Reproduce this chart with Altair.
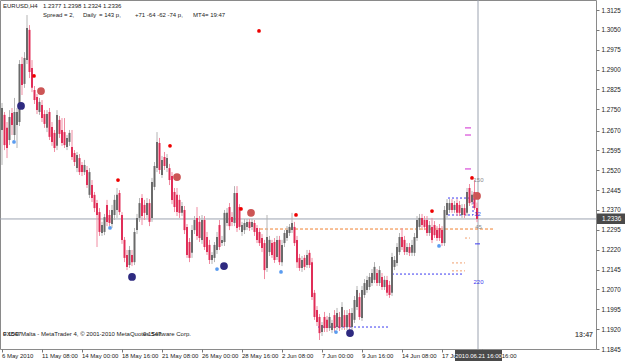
import altair as alt
import pandas as pd

# ---------------- data (EURUSD H4) ----------------
opens = [
    1.2672, 1.2729, 1.2680, 1.2634, 1.2736, 1.2653, 1.2691, 1.2702, 1.2921, 1.2846,
    1.2936, 1.3050, 1.2906, 1.2823, 1.2797, 1.2740, 1.2766, 1.2732, 1.2680, 1.2740,
    1.2683, 1.2661, 1.2612, 1.2710, 1.2672, 1.2664, 1.2608, 1.2627, 1.2608, 1.2585,
    1.2528, 1.2566, 1.2540, 1.2513, 1.2521, 1.2427, 1.2464, 1.2427, 1.2396, 1.2362,
    1.2283, 1.2287, 1.2389, 1.2351, 1.2317, 1.2351, 1.2370, 1.2434, 1.2351, 1.2257,
    1.2200, 1.2162, 1.2200, 1.2173, 1.2294, 1.2340, 1.2415, 1.2389, 1.2351, 1.2396,
    1.2340, 1.2457, 1.2528, 1.2623, 1.2502, 1.2570, 1.2528, 1.2528, 1.2498, 1.2438,
    1.2427, 1.2408, 1.2359, 1.2370, 1.2306, 1.2249, 1.2208, 1.2294, 1.2340, 1.2325,
    1.2257, 1.2332, 1.2268, 1.2238, 1.2181, 1.2189, 1.2219, 1.2313, 1.2245, 1.2249,
    1.2321, 1.2381, 1.2343, 1.2321, 1.2434, 1.2381, 1.2287, 1.2294, 1.2306, 1.2325,
    1.2306, 1.2321, 1.2302, 1.2287, 1.2264, 1.2245, 1.2151, 1.2211, 1.2245, 1.2249,
    1.2192, 1.2257, 1.2173, 1.2245, 1.2264, 1.2283, 1.2294, 1.2306, 1.2257, 1.2189,
    1.2151, 1.2189, 1.2162, 1.2208, 1.2173, 1.2057, 1.1992, 1.1966, 1.1909, 1.1966,
    1.1955, 1.1924, 1.1917, 1.1973, 1.1928, 1.1966, 1.1928, 1.1973, 1.1928, 1.1981,
    1.1928, 1.1955, 1.2004, 1.2041, 1.1962, 1.2049, 1.2068, 1.2079, 1.2094, 1.2106,
    1.2132, 1.2094, 1.2117, 1.2079, 1.2106, 1.2087, 1.2057, 1.2155, 1.2170, 1.2211,
    1.2268, 1.2257, 1.2211, 1.2230, 1.2208, 1.2208, 1.2264, 1.2306, 1.2340, 1.2332,
    1.2332, 1.2283, 1.2306, 1.2313, 1.2294, 1.2302, 1.2294, 1.2245, 1.2351, 1.2370,
    1.2396, 1.2370, 1.2396, 1.2389, 1.2351, 1.2377, 1.2359, 1.2453, 1.2400, 1.2438,
    1.2377,
]
closes = [
    1.2755, 1.2615, 1.2604, 1.2721, 1.2691, 1.2740, 1.2740, 1.2921, 1.2842, 1.2944,
    1.3057, 1.2891, 1.2831, 1.2785, 1.2747, 1.2778, 1.2717, 1.2695, 1.2732, 1.2646,
    1.2627, 1.2604, 1.2729, 1.2657, 1.2623, 1.2615, 1.2642, 1.2661, 1.2570, 1.2551,
    1.2578, 1.2513, 1.2513, 1.2540, 1.2464, 1.2513, 1.2415, 1.2377, 1.2351, 1.2287,
    1.2313, 1.2343, 1.2325, 1.2321, 1.2370, 1.2408, 1.2427, 1.2362, 1.2257, 1.2189,
    1.2155, 1.2219, 1.2173, 1.2287, 1.2340, 1.2396, 1.2347, 1.2359, 1.2396, 1.2325,
    1.2476, 1.2536, 1.2627, 1.2521, 1.2559, 1.2536, 1.2566, 1.2483, 1.2408, 1.2381,
    1.2362, 1.2359, 1.2385, 1.2294, 1.2200, 1.2189, 1.2294, 1.2332, 1.2272, 1.2264,
    1.2332, 1.2230, 1.2211, 1.2181, 1.2200, 1.2238, 1.2268, 1.2230, 1.2257, 1.2359,
    1.2359, 1.2309, 1.2325, 1.2434, 1.2302, 1.2306, 1.2313, 1.2321, 1.2325, 1.2302,
    1.2325, 1.2287, 1.2257, 1.2245, 1.2226, 1.2143, 1.2268, 1.2257, 1.2200, 1.2181,
    1.2257, 1.2173, 1.2238, 1.2283, 1.2294, 1.2306, 1.2321, 1.2245, 1.2173, 1.2151,
    1.2181, 1.2155, 1.2200, 1.2162, 1.2041, 1.1966, 1.1947, 1.1905, 1.1936, 1.1924,
    1.1924, 1.1966, 1.1943, 1.1924, 1.1981, 1.1924, 1.2004, 1.1928, 1.1973, 1.1928,
    1.1981, 1.2030, 1.2068, 1.1966, 1.2068, 1.2094, 1.2106, 1.2117, 1.2132, 1.2155,
    1.2094, 1.2143, 1.2079, 1.2106, 1.2057, 1.2049, 1.2192, 1.2181, 1.2230, 1.2268,
    1.2230, 1.2211, 1.2230, 1.2208, 1.2238, 1.2268, 1.2332, 1.2340, 1.2313, 1.2306,
    1.2283, 1.2313, 1.2257, 1.2275, 1.2264, 1.2264, 1.2245, 1.2370, 1.2396, 1.2396,
    1.2370, 1.2389, 1.2359, 1.2359, 1.2377, 1.2351, 1.2438, 1.2396, 1.2427, 1.2377,
    1.2336,
]
highs = [
    1.2774, 1.2740, 1.2702, 1.2747, 1.2755, 1.2793, 1.2755, 1.2936, 1.2948, 1.2966,
    1.3106, 1.3068, 1.2936, 1.2838, 1.2808, 1.2793, 1.2785, 1.2747, 1.2747, 1.2755,
    1.2702, 1.2672, 1.2747, 1.2725, 1.2717, 1.2717, 1.2653, 1.2672, 1.2672, 1.2596,
    1.2589, 1.2581, 1.2551, 1.2559, 1.2536, 1.2528, 1.2483, 1.2438, 1.2408, 1.2377,
    1.2325, 1.2355, 1.2408, 1.2370, 1.2389, 1.2427, 1.2453, 1.2445, 1.2362, 1.2268,
    1.2219, 1.2234, 1.2219, 1.2302, 1.2355, 1.2415, 1.2430, 1.2408, 1.2415, 1.2411,
    1.2491, 1.2551, 1.2664, 1.2642, 1.2574, 1.2589, 1.2581, 1.2544, 1.2513, 1.2453,
    1.2453, 1.2427, 1.2400, 1.2385, 1.2317, 1.2264, 1.2313, 1.2347, 1.2381, 1.2347,
    1.2351, 1.2347, 1.2287, 1.2257, 1.2211, 1.2249, 1.2287, 1.2332, 1.2272, 1.2370,
    1.2377, 1.2396, 1.2362, 1.2460, 1.2460, 1.2392, 1.2325, 1.2336, 1.2336, 1.2336,
    1.2336, 1.2332, 1.2313, 1.2302, 1.2279, 1.2257, 1.2351, 1.2272, 1.2257, 1.2264,
    1.2272, 1.2272, 1.2257, 1.2294, 1.2309, 1.2317, 1.2359, 1.2325, 1.2272, 1.2204,
    1.2196, 1.2200, 1.2219, 1.2219, 1.2189, 1.2068, 1.2007, 1.1977, 1.1947, 1.1985,
    1.1970, 1.1981, 1.1955, 1.1992, 1.2000, 1.1985, 1.2022, 1.1992, 1.1992, 1.1996,
    1.2000, 1.2045, 1.2083, 1.2057, 1.2083, 1.2109, 1.2121, 1.2132, 1.2147, 1.2173,
    1.2147, 1.2158, 1.2132, 1.2121, 1.2121, 1.2102, 1.2208, 1.2196, 1.2245, 1.2283,
    1.2302, 1.2272, 1.2245, 1.2245, 1.2257, 1.2283, 1.2347, 1.2355, 1.2355, 1.2347,
    1.2347, 1.2328, 1.2340, 1.2328, 1.2309, 1.2317, 1.2309, 1.2385, 1.2411, 1.2411,
    1.2411, 1.2404, 1.2411, 1.2404, 1.2392, 1.2392, 1.2453, 1.2468, 1.2442, 1.2483,
    1.2398,
]
lows = [
    1.2540, 1.2596, 1.2566, 1.2615, 1.2653, 1.2634, 1.2604, 1.2687, 1.2804, 1.2831,
    1.2921, 1.2868, 1.2815, 1.2770, 1.2732, 1.2729, 1.2702, 1.2680, 1.2664, 1.2634,
    1.2612, 1.2589, 1.2596, 1.2642, 1.2612, 1.2604, 1.2596, 1.2612, 1.2559, 1.2536,
    1.2513, 1.2502, 1.2498, 1.2502, 1.2453, 1.2415, 1.2400, 1.2362, 1.2230, 1.2272,
    1.2272, 1.2275, 1.2309, 1.2309, 1.2302, 1.2332, 1.2340, 1.2351, 1.2242, 1.2173,
    1.2143, 1.2151, 1.2158, 1.2162, 1.2279, 1.2325, 1.2313, 1.2332, 1.2340, 1.2309,
    1.2325, 1.2445, 1.2513, 1.2506, 1.2491, 1.2521, 1.2513, 1.2464, 1.2392, 1.2362,
    1.2347, 1.2340, 1.2347, 1.2279, 1.2189, 1.2173, 1.2189, 1.2279, 1.2257, 1.2249,
    1.2242, 1.2219, 1.2200, 1.2166, 1.2166, 1.2173, 1.2204, 1.2219, 1.2234, 1.2234,
    1.2309, 1.2294, 1.2309, 1.2309, 1.2287, 1.2294, 1.2272, 1.2279, 1.2294, 1.2291,
    1.2294, 1.2272, 1.2245, 1.2234, 1.2211, 1.2109, 1.2136, 1.2196, 1.2189, 1.2170,
    1.2181, 1.2162, 1.2158, 1.2230, 1.2253, 1.2272, 1.2283, 1.2234, 1.2151, 1.2140,
    1.2136, 1.2143, 1.2151, 1.2151, 1.2030, 1.1955, 1.1932, 1.1879, 1.1894, 1.1909,
    1.1909, 1.1913, 1.1905, 1.1909, 1.1917, 1.1913, 1.1917, 1.1917, 1.1917, 1.1913,
    1.1917, 1.1943, 1.1992, 1.1955, 1.1951, 1.2038, 1.2057, 1.2068, 1.2083, 1.2094,
    1.2083, 1.2083, 1.2068, 1.2068, 1.2045, 1.2038, 1.2045, 1.2143, 1.2158, 1.2200,
    1.2219, 1.2200, 1.2200, 1.2196, 1.2196, 1.2196, 1.2253, 1.2294, 1.2302, 1.2294,
    1.2272, 1.2272, 1.2245, 1.2264, 1.2253, 1.2253, 1.2234, 1.2234, 1.2340, 1.2359,
    1.2359, 1.2359, 1.2347, 1.2347, 1.2340, 1.2340, 1.2347, 1.2385, 1.2389, 1.2370,
    1.2324,
]
bar_index = list(range(len(closes)))

# time axis labels (bar index of each label)
date_pos = [0, 16, 32, 48, 64, 80, 96, 112, 128, 144, 160, 176, 192]
date_labels = ["6 May 2010", "11 May 08:00", "14 May 00:00", "18 May 16:00",
               "21 May 08:00", "26 May 00:00", "28 May 16:00", "2 Jun 08:00",
               "7 Jun 00:00", "9 Jun 16:00", "14 Jun 08:00", "17 Jun 00:00",
               "21 Jun 16:00"]

price_ticks = [1.3125, 1.3050, 1.2975, 1.2900, 1.2825, 1.2750, 1.2670, 1.2595,
               1.2520, 1.2445, 1.2370, 1.2295, 1.2220, 1.2145, 1.2070, 1.1995,
               1.1920, 1.1845]

# indicator markers
red_dot_i = [12.8, 102.8, 67.2, 46.4, 95.6, 117.6, 172.0, 188.0]
red_dot_p = [1.2876, 1.3046, 1.2612, 1.2483, 1.2374, 1.2351, 1.2366, 1.2491]
big_red_i = [15.6, 70.0, 99.6, 190.0]
big_red_p = [1.2819, 1.2494, 1.2359, 1.2423]
navy_i = [7.6, 52.0, 88.8, 139.2]
navy_p = [1.2763, 1.2117, 1.2158, 1.1905]
blue_i = [4.8, 43.2, 86.0, 111.6, 133.6, 174.8]
blue_p = [1.2627, 1.2302, 1.2147, 1.2136, 1.1909, 1.2234]

# levels
current_price = 1.2336
current_index = 190.4
orange_level = [1.2298]
orange_from = [103.2]
orange_to = [196.8]
blue_levels = [1.2128, 1.1928, 1.2415, 1.2351]
blue_from = [156.0, 126.4, 178.4, 178.4]
blue_to = [184.4, 154.4, 188.4, 188.4]
magenta_levels = [1.2680, 1.2653, 1.2525]
small_orange_levels = [1.2264, 1.2170, 1.2140]
small_orange_from = [185.2, 180.0, 180.0]
small_orange_to = [187.2, 185.2, 185.2]

# ---------------- chart ----------------
FONT = "Liberation Sans"
FS = 6
xs = alt.Scale(domain=[-0.8, 237.6], nice=False, zero=False)
ys = alt.Scale(domain=[1.1845, 1.31628], nice=False, zero=False)
x_axis = alt.Axis(values=date_pos, labels=False, ticks=True, tickSize=3,
                  domain=False, grid=False, title=None, tickColor="#777777")
y_axis = alt.Axis(orient="right", values=price_ticks, format=".4f", tickSize=3,
                  domain=False, grid=False, title=None, labelFont=FONT,
                  labelFontSize=6.3, labelColor="#222222", tickColor="#777777",
                  labelPadding=2, labelOverlap=False)


def X(field):
    return alt.X(field, type="quantitative", scale=xs, axis=x_axis)


def Y(field):
    return alt.Y(field, type="quantitative", scale=ys, axis=y_axis)


bars = pd.DataFrame({"i": bar_index, "open": opens, "high": highs,
                     "low": lows, "close": closes})
bull = "datum.close >= datum.open"

wicks = alt.Chart(bars).mark_rule(strokeWidth=1).encode(
    x=X("i"), y=Y("low"), y2="high",
    color=alt.condition(bull, alt.value("#b4b4b4"), alt.value("#f08ca2")))
bodies = alt.Chart(bars).mark_rule(strokeWidth=2, strokeCap="butt").encode(
    x=X("i"), y=Y("open"), y2="close",
    color=alt.condition(bull, alt.value("#6a6a6a"), alt.value("#e02e58")))

hline = alt.Chart(pd.DataFrame({"p": [current_price]})).mark_rule(
    color="#9ca3b0", strokeWidth=1).encode(y=Y("p"))
vline = alt.Chart(pd.DataFrame({"i": [current_index]})).mark_rule(
    color="#9ca3b0", strokeWidth=1).encode(x=X("i"))

orange = alt.Chart(pd.DataFrame({"p": orange_level, "a": orange_from, "b": orange_to})).mark_rule(
    color="#f08030", strokeDash=[3, 2], strokeWidth=1).encode(x=X("a"), x2="b", y=Y("p"))
blues = alt.Chart(pd.DataFrame({"p": blue_levels, "a": blue_from, "b": blue_to})).mark_rule(
    color="#3a3af0", strokeDash=[2, 2], strokeWidth=1).encode(x=X("a"), x2="b", y=Y("p"))
blue_v = alt.Chart(pd.DataFrame({"i": [188.4], "a": [1.2415], "b": [1.2351]})).mark_rule(
    color="#3a3af0", strokeDash=[2, 2], strokeWidth=1).encode(x=X("i"), y=Y("a"), y2="b")
magenta = alt.Chart(pd.DataFrame({"p": magenta_levels, "a": [185.2] * 3, "b": [187.6] * 3})).mark_rule(
    color="#e070e0", strokeWidth=1.5).encode(x=X("a"), x2="b", y=Y("p"))
small_orange = alt.Chart(pd.DataFrame({"p": small_orange_levels, "a": small_orange_from,
                                       "b": small_orange_to})).mark_rule(
    color="#f0a070", strokeDash=[2, 2], strokeWidth=1).encode(x=X("a"), x2="b", y=Y("p"))
blue_short = alt.Chart(pd.DataFrame({"p": [1.2242], "a": [189.2], "b": [191.2]})).mark_rule(
    color="#3a3af0", strokeWidth=1).encode(x=X("a"), x2="b", y=Y("p"))

red_dots = alt.Chart(pd.DataFrame({"i": red_dot_i, "p": red_dot_p})).mark_circle(
    color="#ee0000", size=14, opacity=1).encode(x=X("i"), y=Y("p"))
big_red = alt.Chart(pd.DataFrame({"i": big_red_i, "p": big_red_p})).mark_circle(
    color="#cc5555", size=60, opacity=1).encode(x=X("i"), y=Y("p"))
navy = alt.Chart(pd.DataFrame({"i": navy_i, "p": navy_p})).mark_circle(
    color="#2e2a80", size=60, opacity=1).encode(x=X("i"), y=Y("p"))
blue_dots = alt.Chart(pd.DataFrame({"i": blue_i, "p": blue_p})).mark_circle(
    color="#5a9cf0", size=14, opacity=1).encode(x=X("i"), y=Y("p"))

# numbers near the last bar
num_text = alt.Chart(pd.DataFrame({"i": [190.6, 190.2, 190.6, 190.6],
                                   "p": [1.2483, 1.2354, 1.2305, 1.2098],
                                   "t": ["150", "12", "45", "220"],
                                   "c": ["#888888", "#3a3af0", "#888888", "#3a3af0"]})).mark_text(
    font=FONT, fontSize=FS, align="center", baseline="middle").encode(
    x=X("i"), y=Y("p"), text="t:N", color=alt.Color("c:N", scale=None))

# time labels
date_text = alt.Chart(pd.DataFrame({"i": date_pos, "t": date_labels})).mark_text(
    font=FONT, fontSize=FS, align="left", baseline="middle", color="#222222").encode(
    x=X("i"), y=alt.value(355.5), text="t:N")

date_box = alt.Chart(pd.DataFrame({"a": [0]})).mark_rect(color="#4a4a4a").encode(
    x=alt.value(455), x2=alt.value(502), y=alt.value(350), y2=alt.value(361))
date_box_text = alt.Chart(pd.DataFrame({"t": ["2010.06.21 16:00"]})).mark_text(
    font=FONT, fontSize=FS, align="center", baseline="middle", color="white").encode(
    x=alt.value(478.5), y=alt.value(355.5), text="t:N")

price_box = alt.Chart(pd.DataFrame({"a": [0]})).mark_rect(color="#4a4a4a").encode(
    x=alt.value(597), x2=alt.value(625), y=alt.value(213.5), y2=alt.value(224))
price_box_text = alt.Chart(pd.DataFrame({"t": ["1.2336"]})).mark_text(
    font=FONT, fontSize=6.3, align="left", baseline="middle", color="white").encode(
    x=alt.value(602), y=alt.value(219), text="t:N")

# header / footer texts
hdr = pd.DataFrame({
    "t": ["EURUSD,H4", "1.2377 1.2398 1.2324 1.2336", "Spread = 2,", "Daily",
          "= 143 p,", "+71 -64 -62 -74 p,", "MT4", "= 19:47",
          "FXDD Malta - MetaTrader 4, \u00a9 2001-2010 MetaQuotes Software Corp.",
          "0.1547", "0.1547"],
    "x": [3, 43, 43, 83, 99, 135, 193, 205, 3, 3, 143],
    "y": [5.5, 5.5, 14.5, 14.5, 14.5, 14.5, 14.5, 14.5, 334, 334, 334],
})
header = alt.Chart(hdr).mark_text(font=FONT, fontSize=FS, align="left",
                                  baseline="middle", color="#222222").encode(
    x=alt.X("x:Q", scale=None), y=alt.Y("y:Q", scale=None), text="t:N")
clock = alt.Chart(pd.DataFrame({"t": ["13:47"]})).mark_text(
    font=FONT, fontSize=7, fontWeight="bold", align="right", baseline="middle",
    color="#555555").encode(x=alt.value(593), y=alt.value(335), text="t:N")

chart = alt.layer(
    hline, vline, orange, small_orange, blues, blue_v, magenta, blue_short,
    wicks, bodies,
    red_dots, blue_dots, big_red, navy, num_text,
    date_text, date_box, date_box_text, price_box, price_box_text, header, clock,
).properties(
    width=596, height=349,
    padding={"left": 0, "top": 0, "right": 29, "bottom": 12},
    autosize="none",
    background="white",
).configure_view(stroke="#8a8a8a", strokeWidth=1)

chart.save("out.html", embed_options={"renderer": "svg", "actions": False})
